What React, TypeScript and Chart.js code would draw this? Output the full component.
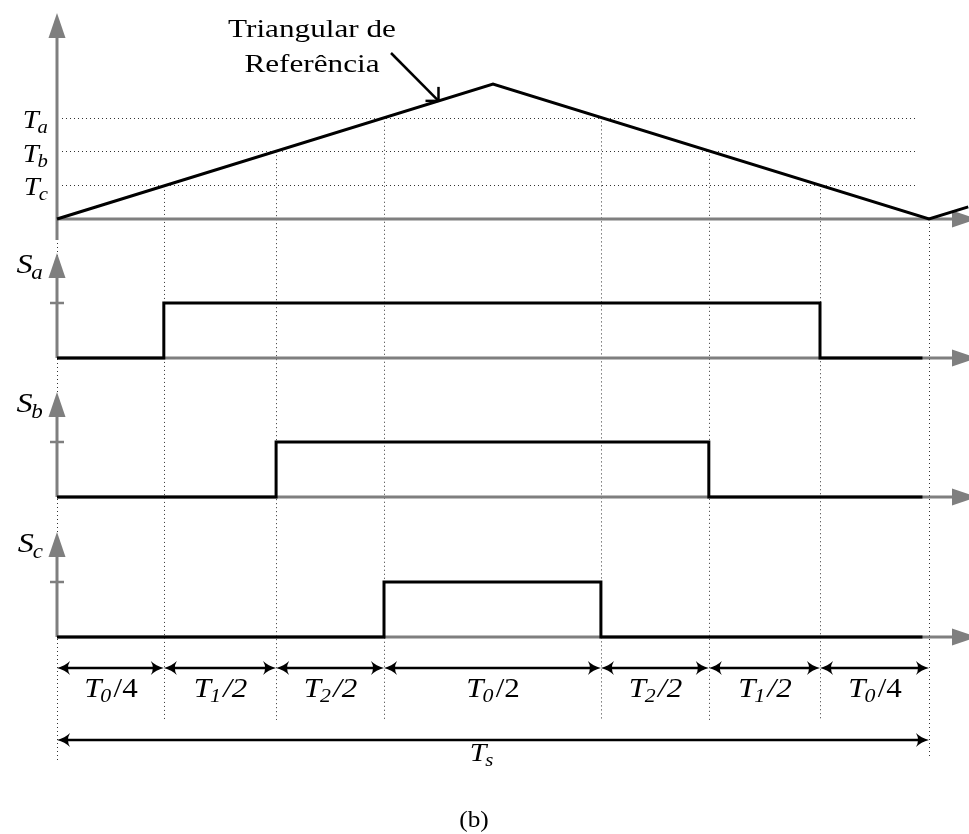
import React, { useEffect, useRef } from 'react';
import { Chart, registerables } from 'chart.js';

Chart.register(...registerables);

// ---------- data (time in units of Ts/8, carrier normalised to 1) ----------
const intervalBounds = [0, 0.98, 2.01, 3.0, 4.99, 5.98, 7.0, 8.0];
const intervalSubs = ['0', '1', '2', '0', '2', '1', '0'];
const intervalDivs = ['4', '2', '2', '2', '2', '2', '4'];
const intervalDivItalic = [false, true, true, false, true, true, false];
const carrierT = [0, 4.0, 8.0, 8.36];
const carrierV = [0, 1, 0, 0.09];
const levelNames = ['a', 'b', 'c'];
const levelValues = [0.75, 0.5, 0.25];
const saT = [0, 0.98, 7.0, 7.94];
const saV = [0, 1, 0, 0];
const sbT = [0, 2.01, 5.98, 7.94];
const sbV = [0, 1, 0, 0];
const scT = [0, 3.0, 4.99, 7.94];
const scV = [0, 1, 0, 0];
const pointerT = 3.5;
const annotationLines = ['Triangular de', 'Referência'];
const periodLabel = 's';
const caption = '(b)';

// ---------- layout ----------
const W = 969;
const H = 834;
const X0PX = 57;
const XUNIT = 109;
const GRAY = '#7f7f7f';
const SERIF = '"Liberation Serif", "Times New Roman", serif';

const panels = [
  { id: 'yTri', base: 219, unit: 135, axisLen: 206, below: 21, tick: false, name: '' },
  { id: 'ySa', base: 358, unit: 55, axisLen: 105, below: 0, tick: true, name: 'a' },
  { id: 'ySb', base: 497, unit: 55, axisLen: 105, below: 0, tick: true, name: 'b' },
  { id: 'ySc', base: 637, unit: 55, axisLen: 105, below: 0, tick: true, name: 'c' },
];

function rangeFor(base: number, unit: number) {
  const max = base / unit;
  return { min: max - H / unit, max };
}

function steps(t: number[], v: number[]) {
  const out: { x: number; y: number }[] = [];
  t.forEach((x, i) => {
    if (i > 0) out.push({ x, y: v[i - 1] });
    out.push({ x, y: v[i] });
  });
  return out;
}

function interp(t: number) {
  for (let i = 1; i < carrierT.length; i++) {
    if (t <= carrierT[i]) {
      const f = (t - carrierT[i - 1]) / (carrierT[i] - carrierT[i - 1]);
      return carrierV[i - 1] + f * (carrierV[i] - carrierV[i - 1]);
    }
  }
  return carrierV[carrierV.length - 1];
}

function line(ctx: CanvasRenderingContext2D, x1: number, y1: number, x2: number, y2: number) {
  ctx.beginPath();
  ctx.moveTo(x1, y1);
  ctx.lineTo(x2, y2);
  ctx.stroke();
}

function triHead(ctx: CanvasRenderingContext2D, tx: number, ty: number, dx: number, dy: number, len: number, half: number) {
  const bx = tx - dx * len;
  const by = ty - dy * len;
  ctx.beginPath();
  ctx.moveTo(tx, ty);
  ctx.lineTo(bx - dy * half, by + dx * half);
  ctx.lineTo(bx + dy * half, by - dx * half);
  ctx.closePath();
  ctx.fill();
}

function stealth(ctx: CanvasRenderingContext2D, tx: number, ty: number, dir: number) {
  ctx.beginPath();
  ctx.moveTo(tx, ty);
  ctx.quadraticCurveTo(tx - dir * 8, ty - 2, tx - dir * 13, ty - 7);
  ctx.quadraticCurveTo(tx - dir * 9, ty, tx - dir * 13, ty + 7);
  ctx.quadraticCurveTo(tx - dir * 8, ty + 2, tx, ty);
  ctx.closePath();
  ctx.fill();
}

function subLabel(
  ctx: CanvasRenderingContext2D,
  x: number,
  y: number,
  main: string,
  sub: string,
  tail: string,
  size: number,
  align: 'left' | 'center' | 'right',
  tailItalic: boolean,
  sx = 1.15
) {
  const fMain = `italic ${size}px ${SERIF}`;
  const subSize = Math.round(size * 0.7);
  const fSub = `italic ${subSize}px ${SERIF}`;
  const fTail = `${tailItalic ? 'italic ' : ''}${size}px ${SERIF}`;
  ctx.textAlign = 'left';
  ctx.textBaseline = 'alphabetic';
  ctx.font = fMain;
  const wMain = ctx.measureText(main).width;
  ctx.font = fSub;
  const wSub = ctx.measureText(sub).width;
  ctx.font = fTail;
  const wTail = tail ? ctx.measureText(tail).width : 0;
  const total = (wMain + wSub + wTail) * sx;
  let left = x;
  if (align === 'center') left = x - total / 2;
  if (align === 'right') left = x - total;
  ctx.save();
  ctx.translate(left, y);
  ctx.scale(sx, 1);
  ctx.font = fMain;
  ctx.fillText(main, 0, 0);
  ctx.font = fSub;
  ctx.fillText(sub, wMain - 1, size * 0.2);
  if (tail) {
    ctx.font = fTail;
    ctx.fillText(tail, wMain + wSub + 1, 0);
  }
  ctx.restore();
}

const diagramPlugin = {
  id: 'diagram',
  beforeDatasetsDraw(chart: any) {
    const ctx: CanvasRenderingContext2D = chart.ctx;
    const xs = chart.scales.x;
    const yT = chart.scales.yTri;
    const px = (t: number) => xs.getPixelForValue(t);
    ctx.save();
    // dotted guides
    ctx.strokeStyle = '#333';
    ctx.lineWidth = 1;
    ctx.setLineDash([1, 3]);
    levelValues.forEach((v) => {
      const y = Math.round(yT.getPixelForValue(v)) + 0.5;
      line(ctx, 62, y, 918, y);
    });
    const last = intervalBounds.length - 1;
    intervalBounds.forEach((t, i) => {
      const x = Math.round(px(t)) + 0.5;
      const top = yT.getPixelForValue(interp(t));
      const bottom = i === 0 ? 762 : i === last ? 757 : 720;
      line(ctx, x, top, x, bottom);
    });
    ctx.setLineDash([]);
    // gray axes
    panels.forEach((p) => {
      const ys = chart.scales[p.id];
      const base = ys.getPixelForValue(0);
      const x0 = px(0);
      ctx.strokeStyle = GRAY;
      ctx.fillStyle = GRAY;
      ctx.lineWidth = 3;
      line(ctx, x0, base, 955, base);
      triHead(ctx, 977, base, 1, 0, 25, 8.5);
      const tip = base - p.axisLen;
      line(ctx, x0, base + p.below, x0, tip + 20);
      triHead(ctx, x0, tip, 0, -1, 25, 8.5);
      if (p.tick) {
        ctx.lineWidth = 2.5;
        const yt = ys.getPixelForValue(1);
        line(ctx, x0 - 7, yt, x0 + 7, yt);
      }
    });
    ctx.restore();
  },
  afterDatasetsDraw(chart: any) {
    const ctx: CanvasRenderingContext2D = chart.ctx;
    const xs = chart.scales.x;
    const yT = chart.scales.yTri;
    const px = (t: number) => xs.getPixelForValue(t);
    ctx.save();
    ctx.fillStyle = '#000';
    ctx.strokeStyle = '#000';

    // level labels Ta, Tb, Tc
    levelValues.forEach((v, i) => {
      const y = yT.getPixelForValue(v);
      subLabel(ctx, 49, y + 10, 'T', levelNames[i], '', 25, 'right', false);
    });

    // switching labels Sa, Sb, Sc
    panels.forEach((p) => {
      if (!p.name) return;
      const base = chart.scales[p.id].getPixelForValue(0);
      const tip = base - p.axisLen;
      subLabel(ctx, 44, tip + 20, 'S', p.name, '', 28, 'right', false);
    });

    // interval dimension arrows
    const rowY = 668;
    ctx.lineWidth = 2.5;
    for (let i = 0; i < intervalBounds.length - 1; i++) {
      const a = px(intervalBounds[i]);
      const b = px(intervalBounds[i + 1]);
      line(ctx, a + 6, rowY, b - 6, rowY);
      stealth(ctx, a, rowY, -1);
      stealth(ctx, b, rowY, 1);
      subLabel(ctx, (a + b) / 2, 697, 'T', intervalSubs[i], '/' + intervalDivs[i], 27, 'center', intervalDivItalic[i]);
    }

    // period arrow
    const pa = px(intervalBounds[0]);
    const pb = px(intervalBounds[intervalBounds.length - 1]);
    line(ctx, pa + 6, 740, pb - 6, 740);
    stealth(ctx, pa, 740, -1);
    stealth(ctx, pb, 740, 1);
    subLabel(ctx, 482, 761, 'T', periodLabel, '', 26, 'center', false);

    // annotation
    ctx.font = `26px ${SERIF}`;
    ctx.textAlign = 'center';
    ctx.textBaseline = 'alphabetic';
    ctx.save();
    ctx.translate(312, 0);
    ctx.scale(1.2, 1);
    ctx.fillText(annotationLines[0], 0, 37);
    ctx.fillText(annotationLines[1], 0, 72);
    ctx.restore();
    const tx = px(pointerT);
    const ty = yT.getPixelForValue(interp(pointerT));
    ctx.lineWidth = 2.5;
    line(ctx, 391, 53, tx, ty);
    line(ctx, tx, ty, tx, ty - 14);
    line(ctx, tx, ty, tx - 13, ty);

    // caption
    ctx.save();
    ctx.font = `23px ${SERIF}`;
    ctx.textAlign = 'center';
    ctx.translate(474, 827);
    ctx.scale(1.1, 1);
    ctx.fillText(caption, 0, 0);
    ctx.restore();
    ctx.restore();
  },
};

const lineStyle = {
  borderColor: '#000',
  borderWidth: 3,
  pointRadius: 0,
  tension: 0,
  fill: false,
  borderJoinStyle: 'miter' as const,
  borderCapStyle: 'butt' as const,
};

export default function App() {
  const ref = useRef<HTMLCanvasElement>(null);
  useEffect(() => {
    const scales: any = {
      x: { type: 'linear', display: false, min: -X0PX / XUNIT, max: (W - X0PX) / XUNIT },
    };
    panels.forEach((p) => {
      const r = rangeFor(p.base, p.unit);
      scales[p.id] = { type: 'linear', display: false, min: r.min, max: r.max };
    });
    const chart = new Chart(ref.current as HTMLCanvasElement, {
      type: 'line',
      data: {
        datasets: [
          { ...lineStyle, data: carrierT.map((x, i) => ({ x, y: carrierV[i] })), yAxisID: 'yTri' },
          { ...lineStyle, data: steps(saT, saV), yAxisID: 'ySa' },
          { ...lineStyle, data: steps(sbT, sbV), yAxisID: 'ySb' },
          { ...lineStyle, data: steps(scT, scV), yAxisID: 'ySc' },
        ] as any,
      },
      options: {
        responsive: false,
        animation: false,
        events: [],
        layout: { padding: 0 },
        plugins: { legend: { display: false }, tooltip: { enabled: false } },
        scales,
      },
      plugins: [diagramPlugin],
    });
    return () => chart.destroy();
  }, []);
  return (
    <div style={{ position: 'fixed', left: 0, top: 0, width: W, height: H, background: '#fff' }}>
      <canvas ref={ref} width={W} height={H} style={{ display: 'block' }} />
    </div>
  );
}
